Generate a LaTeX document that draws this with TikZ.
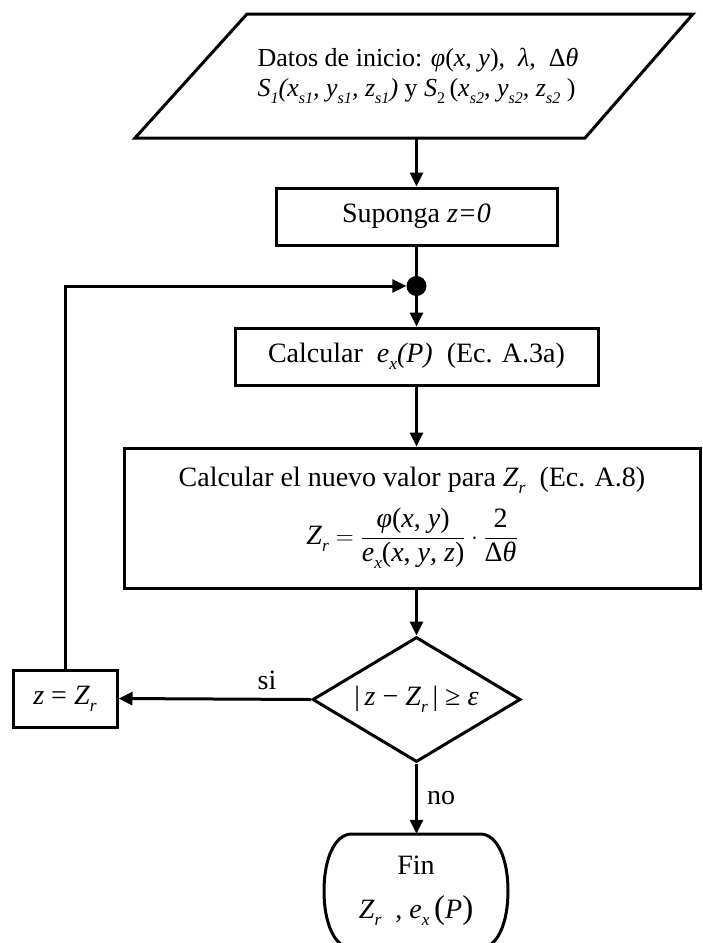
\documentclass[tikz,border=0pt]{standalone}
\usepackage{fontspec}
\setmainfont{Liberation Serif}
\usepackage{graphicx}
\usetikzlibrary{arrows.meta,shapes.geometric,calc}
\newcommand\sbs[1]{\raisebox{-0.25em}{\scalebox{0.62}{#1}}}
\newcommand\ii[1]{\textit{#1}}
\begin{document}
\begin{tikzpicture}[x=1pt,y=1pt,
  every node/.style={font=\fontsize{28}{32}\selectfont},
  box/.style={draw,line width=3pt,inner sep=0pt},
  thickline/.style={line width=3pt},
  arr/.style={line width=3pt,-{Triangle[length=14pt,width=13pt]}}]
\useasboundingbox (0,0) rectangle (702,-943);
% input parallelogram
\draw[thickline,line join=miter] (247,-14) -- (693,-14) -- (585,-138) -- (135,-138) -- cycle;
\node[align=left,inner sep=0pt,minimum height=124pt,font=\fontsize{26}{30}\selectfont] (par) at (418,-76)
  {Datos de inicio: \ii{φ}(\ii{x}, \ii{y}),\ \ \ii{λ},\ \ Δ\ii{θ}\\
   \ii{S}\sbs{\ii{1}}\ii{(x}\sbs{\ii{s1}}\ii{, y}\sbs{\ii{s1}}\ii{, z}\sbs{\ii{s1}}\ii{)} y\ \ii{S}\sbs{2}\,(\ii{x}\sbs{\ii{s2}}, \ii{y}\sbs{\ii{s2}}, \ii{z}\sbs{\ii{s2}}\ )};
\node[box,minimum width=281pt,minimum height=57pt] (sup) at (416.5,-216.5) {Suponga \ii{z=0}};
\node[circle,fill=black,inner sep=0pt,minimum size=20pt] (dot) at (416.5,-286) {};
\node[box,minimum width=363pt,minimum height=57pt] (calc) at (416.5,-356.5)
  {Calcular\ \ \ii{e}\sbs{\ii{x}}\ii{(P)}\ \ (Ec. A.3a)};
\node[box,minimum width=576pt,minimum height=140pt,align=center] (big) at (412,-518)
  {Calcular el nuevo valor para \ii{Z}\sbs{\ii{r}}\ \ (Ec. A.8)\\[14pt]
   $\mbox{\ii{Z}\sbs{\ii{r}}} = \displaystyle\frac{\mbox{\ii{φ}(\ii{x}, \ii{y})}}{\mbox{\ii{e}\sbs{\ii{x}}(\ii{x}, \ii{y}, \ii{z})}}\cdot\frac{\mbox{2}}{\mbox{Δ\ii{θ}}}$\rule[-12pt]{0pt}{12pt}};
\node[draw,line width=3pt,diamond,aspect=1.664,minimum width=208pt,minimum height=125pt,inner sep=0pt] (dia) at (416.5,-699.5)
  {|\,\ii{z} − \ii{Z}\sbs{\ii{r}}\,| ≥ \ii{ε}};
\node[box,minimum width=104pt,minimum height=57pt] (zbox) at (65,-698.5) {\ii{z} = \ii{Z}\sbs{\ii{r}}};
\node[align=center,inner sep=0pt,minimum width=150pt,minimum height=114pt] (fin) at (416,-891)
  {Fin\\[12pt] \ii{Z}\sbs{\ii{r}}\ \ , \ii{e}\sbs{\ii{x}}\,{\fontsize{33}{33}\selectfont(}\ii{P}{\fontsize{33}{33}\selectfont)}};
\draw[thickline] (352,-834) -- (480,-834)
  .. controls (498,-834) and (508,-860) .. (508,-891)
  .. controls (508,-922) and (498,-948) .. (480,-948) -- (352,-948)
  .. controls (334,-948) and (324,-922) .. (324,-891)
  .. controls (324,-860) and (334,-834) .. (352,-834) -- cycle;
% labels
\node (si) at (267,-680) {si};
\node (no) at (441,-798) {no};
% connectors
\draw[arr] (par.south -| sup.north) -- (sup.north);
\draw[thickline] (sup.south) -- (dot.center);
\draw[arr] (dot.center) -- (calc.north);
\draw[arr] (calc.south) -- (calc.south |- big.north);
\draw[arr] (calc.south |- big.south) -- (dia.north);
\draw[arr] (dia.west) -- (zbox.east);
\draw[arr] (dia.south) -- (dia.south |- fin.north);
\draw[arr,line join=miter] (zbox.north) |- (dot.west);
\end{tikzpicture}
\end{document}
